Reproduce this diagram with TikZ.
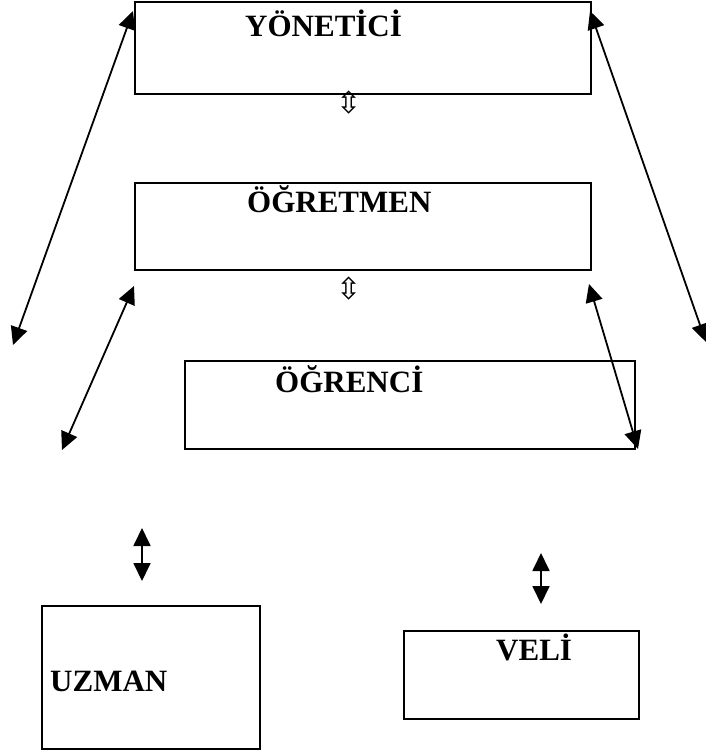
\documentclass[tikz,border=0pt]{standalone}
\usepackage{fontspec}
\setmainfont{Liberation Serif}
\newfontfamily\symfont{DejaVu Sans}
\usetikzlibrary{arrows.meta}
\begin{document}
\begin{tikzpicture}[x=1pt,y=-1pt,
  box/.style={draw,line width=1.8pt},
  lbl/.style={font=\bfseries\fontsize{31}{33}\selectfont,inner sep=0pt,anchor=base west},
  dbl/.style={line width=1.8pt,{Triangle[length=18pt,width=17pt]}-{Triangle[length=18pt,width=17pt]}},
  hol/.style={font=\symfont\fontsize{30}{30}\selectfont,inner sep=0pt}]
\useasboundingbox (0,0) rectangle (706,753);
\node[box,minimum width=456pt,minimum height=92pt,anchor=north west,inner sep=0pt] (yon) at (134,1) {};
\node[box,minimum width=456pt,minimum height=87pt,anchor=north west,inner sep=0pt] (ogr) at (134,182) {};
\node[box,minimum width=450pt,minimum height=88pt,anchor=north west,inner sep=0pt] (ogc) at (184,360) {};
\node[box,minimum width=218pt,minimum height=143pt,anchor=north west,inner sep=0pt] (uzm) at (41,605) {};
\node[box,minimum width=235pt,minimum height=88pt,anchor=north west,inner sep=0pt] (vel) at (403,630) {};
\node[lbl] (tyon) at (245,36) {YÖNETİCİ};
\node[lbl] (togr) at (247,212) {ÖĞRETMEN};
\node[lbl] (togc) at (275,392) {ÖĞRENCİ};
\node[lbl] (tuzm) at (50,691) {UZMAN};
\node[lbl] (tvel) at (496,660) {VELİ};
\node[hol] (h1) at (349,103) {⇳};
\node[hol] (h2) at (349,289) {⇳};
\coordinate (a1) at (133,11);
\coordinate (b1) at (13,345);
\coordinate (a2) at (590,11);
\coordinate (b2) at (706,342);
\coordinate (a3) at (134,286);
\coordinate (b3) at (62,450);
\coordinate (a4) at (589,284);
\coordinate (b4) at (638,449);
\coordinate (a5) at (142,528);
\coordinate (b5) at (142,581);
\coordinate (a6) at (541,553);
\coordinate (b6) at (541,604);
\draw[dbl] (a1) -- (b1);
\draw[dbl] (a2) -- (b2);
\draw[dbl] (a3) -- (b3);
\draw[dbl] (a4) -- (b4);
\draw[dbl] (a5) -- (b5);
\draw[dbl] (a6) -- (b6);
\end{tikzpicture}
\end{document}
